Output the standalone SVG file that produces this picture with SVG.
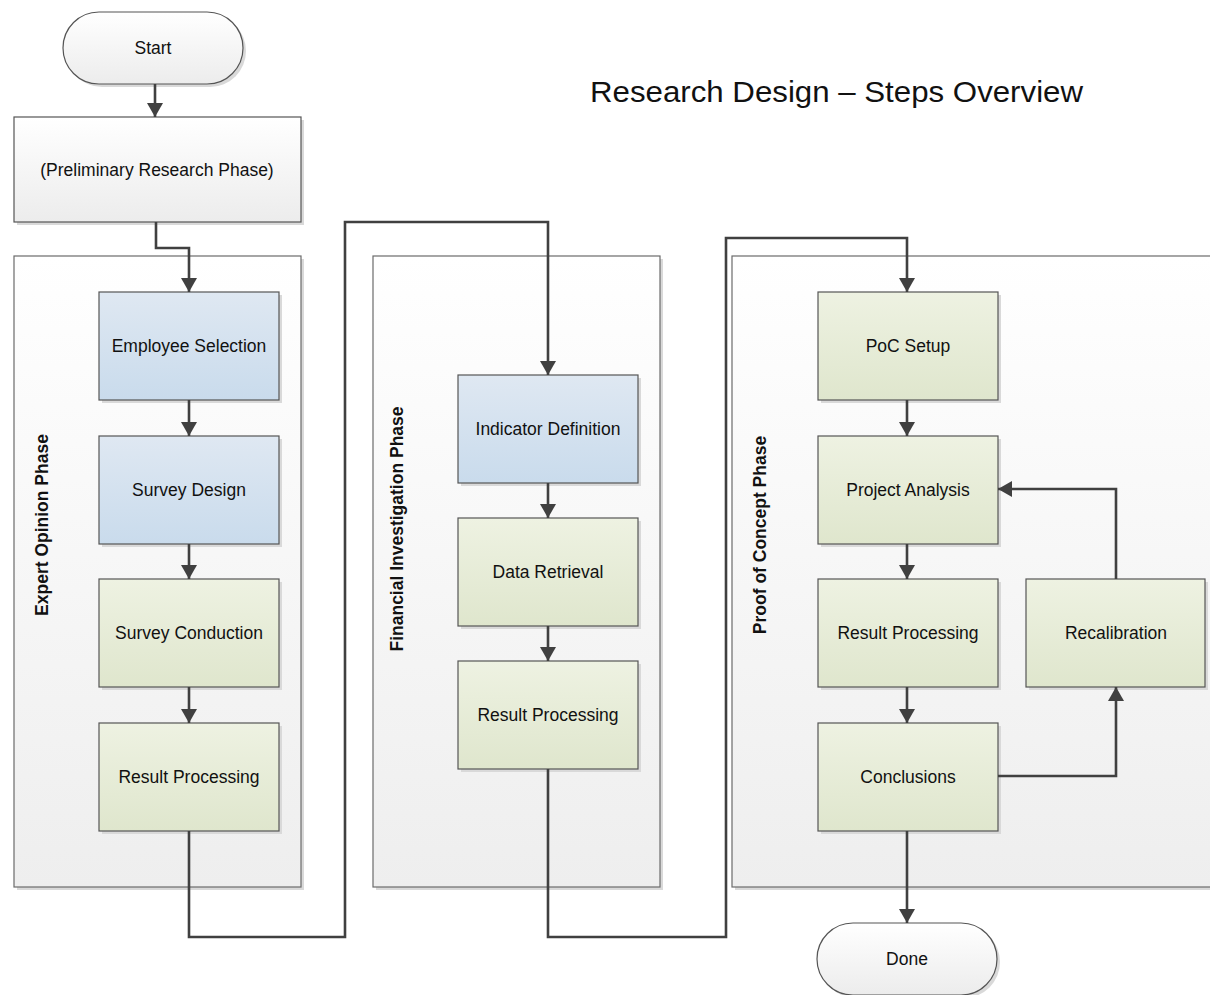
<svg xmlns="http://www.w3.org/2000/svg" width="1210" height="995" viewBox="0 0 1210 995">
  <defs>
    <linearGradient id="gContainer" x1="0" y1="0" x2="0" y2="1">
      <stop offset="0" stop-color="#ffffff"/>
      <stop offset="1" stop-color="#eeeeee"/>
    </linearGradient>
    <linearGradient id="gBlue" x1="0" y1="0" x2="0" y2="1">
      <stop offset="0" stop-color="#dfe8f2"/>
      <stop offset="1" stop-color="#c9dbec"/>
    </linearGradient>
    <linearGradient id="gGreen" x1="0" y1="0" x2="0" y2="1">
      <stop offset="0" stop-color="#eef2e2"/>
      <stop offset="1" stop-color="#dfe6cd"/>
    </linearGradient>
    <linearGradient id="gGray" x1="0" y1="0" x2="0" y2="1">
      <stop offset="0" stop-color="#ffffff"/>
      <stop offset="1" stop-color="#ececec"/>
    </linearGradient>
    <marker id="arrow" viewBox="0 0 14 16" refX="14" refY="8" markerWidth="14" markerHeight="16" markerUnits="userSpaceOnUse" orient="auto">
      <path d="M0,0 L14,8 L0,16 z" fill="#404040"/>
    </marker>
  </defs>
  <style>
    .shadow { fill: #d9d9d9; }
    .container { fill: url(#gContainer); stroke: #6b6b6b; stroke-width: 1.2; }
    .box { stroke: #555555; stroke-width: 1.2; }
    .blue { fill: url(#gBlue); }
    .green { fill: url(#gGreen); }
    .gray { fill: url(#gGray); }
    .label { font-family: "Liberation Sans", Arial, sans-serif; font-size: 17.5px; fill: #111111; text-anchor: middle; dominant-baseline: central; }
    .phase { font-family: "Liberation Sans", Arial, sans-serif; font-size: 17.5px; font-weight: bold; fill: #111111; text-anchor: middle; dominant-baseline: central; }
    .title { font-family: "Liberation Sans", Arial, sans-serif; font-size: 30px; fill: #111111; }
    .conn { fill: none; stroke: #404040; stroke-width: 2.6; marker-end: url(#arrow); }
  </style>

  <rect width="1210" height="995" fill="#ffffff"/>

  <text class="title" x="590" y="102" textLength="493" lengthAdjust="spacingAndGlyphs">Research Design – Steps Overview</text>

  <!-- phase containers -->
  <g id="phase-expert">
    <rect class="shadow" x="17" y="259" width="287" height="631"/>
    <rect class="container" x="14" y="256" width="287" height="631"/>
    <text class="phase" transform="translate(42,525) rotate(-90)">Expert Opinion Phase</text>
  </g>
  <g id="phase-financial">
    <rect class="shadow" x="376" y="259" width="287" height="631"/>
    <rect class="container" x="373" y="256" width="287" height="631"/>
    <text class="phase" transform="translate(397,529) rotate(-90)">Financial Investigation Phase</text>
  </g>
  <g id="phase-poc">
    <rect class="shadow" x="735" y="259" width="490" height="631"/>
    <rect class="container" x="732" y="256" width="490" height="631"/>
    <text class="phase" transform="translate(760,535) rotate(-90)">Proof of Concept Phase</text>
  </g>

  <!-- terminators -->
  <g id="start">
    <rect class="shadow" x="66" y="15" width="180" height="72" rx="36"/>
    <rect class="box gray" x="63" y="12" width="180" height="72" rx="36"/>
    <text class="label" x="153" y="48">Start</text>
  </g>
  <g id="done">
    <rect class="shadow" x="820" y="926" width="180" height="72" rx="36"/>
    <rect class="box gray" x="817" y="923" width="180" height="72" rx="36"/>
    <text class="label" x="907" y="959">Done</text>
  </g>

  <g id="preliminary">
    <rect class="shadow" x="17" y="120" width="287" height="105"/>
    <rect class="box gray" x="14" y="117" width="287" height="105"/>
    <text class="label" x="157" y="170">(Preliminary Research Phase)</text>
  </g>

  <!-- expert opinion steps -->
  <g id="employee-selection">
    <rect class="shadow" x="102" y="295" width="180" height="108"/>
    <rect class="box blue" x="99" y="292" width="180" height="108"/>
    <text class="label" x="189" y="346">Employee Selection</text>
  </g>
  <g id="survey-design">
    <rect class="shadow" x="102" y="439" width="180" height="108"/>
    <rect class="box blue" x="99" y="436" width="180" height="108"/>
    <text class="label" x="189" y="490">Survey Design</text>
  </g>
  <g id="survey-conduction">
    <rect class="shadow" x="102" y="582" width="180" height="108"/>
    <rect class="box green" x="99" y="579" width="180" height="108"/>
    <text class="label" x="189" y="633">Survey Conduction</text>
  </g>
  <g id="result-processing-1">
    <rect class="shadow" x="102" y="726" width="180" height="108"/>
    <rect class="box green" x="99" y="723" width="180" height="108"/>
    <text class="label" x="189" y="777">Result Processing</text>
  </g>

  <!-- financial investigation steps -->
  <g id="indicator-definition">
    <rect class="shadow" x="461" y="378" width="180" height="108"/>
    <rect class="box blue" x="458" y="375" width="180" height="108"/>
    <text class="label" x="548" y="429">Indicator Definition</text>
  </g>
  <g id="data-retrieval">
    <rect class="shadow" x="461" y="521" width="180" height="108"/>
    <rect class="box green" x="458" y="518" width="180" height="108"/>
    <text class="label" x="548" y="572">Data Retrieval</text>
  </g>
  <g id="result-processing-2">
    <rect class="shadow" x="461" y="664" width="180" height="108"/>
    <rect class="box green" x="458" y="661" width="180" height="108"/>
    <text class="label" x="548" y="715">Result Processing</text>
  </g>

  <!-- proof of concept steps -->
  <g id="poc-setup">
    <rect class="shadow" x="821" y="295" width="180" height="108"/>
    <rect class="box green" x="818" y="292" width="180" height="108"/>
    <text class="label" x="908" y="346">PoC Setup</text>
  </g>
  <g id="project-analysis">
    <rect class="shadow" x="821" y="439" width="180" height="108"/>
    <rect class="box green" x="818" y="436" width="180" height="108"/>
    <text class="label" x="908" y="490">Project Analysis</text>
  </g>
  <g id="result-processing-3">
    <rect class="shadow" x="821" y="582" width="180" height="108"/>
    <rect class="box green" x="818" y="579" width="180" height="108"/>
    <text class="label" x="908" y="633">Result Processing</text>
  </g>
  <g id="conclusions">
    <rect class="shadow" x="821" y="726" width="180" height="108"/>
    <rect class="box green" x="818" y="723" width="180" height="108"/>
    <text class="label" x="908" y="777">Conclusions</text>
  </g>
  <g id="recalibration">
    <rect class="shadow" x="1029" y="582" width="179" height="108"/>
    <rect class="box green" x="1026" y="579" width="179" height="108"/>
    <text class="label" x="1116" y="633">Recalibration</text>
  </g>

  <!-- connectors -->
  <g id="connectors">
    <path class="conn" d="M155,84 V117"/>
    <path class="conn" d="M156,222 V248 H189 V292"/>
    <path class="conn" d="M189,400 V436"/>
    <path class="conn" d="M189,544 V579"/>
    <path class="conn" d="M189,687 V723"/>
    <path class="conn" d="M189,831 V937 H345 V222 H548 V375"/>
    <path class="conn" d="M548,483 V518"/>
    <path class="conn" d="M548,626 V661"/>
    <path class="conn" d="M548,769 V937 H726 V238 H907 V292"/>
    <path class="conn" d="M907,400 V436"/>
    <path class="conn" d="M907,544 V579"/>
    <path class="conn" d="M907,687 V723"/>
    <path class="conn" d="M907,831 V923"/>
    <path class="conn" d="M998,776 H1116 V687"/>
    <path class="conn" d="M1116,579 V489 H998"/>
  </g>
</svg>
